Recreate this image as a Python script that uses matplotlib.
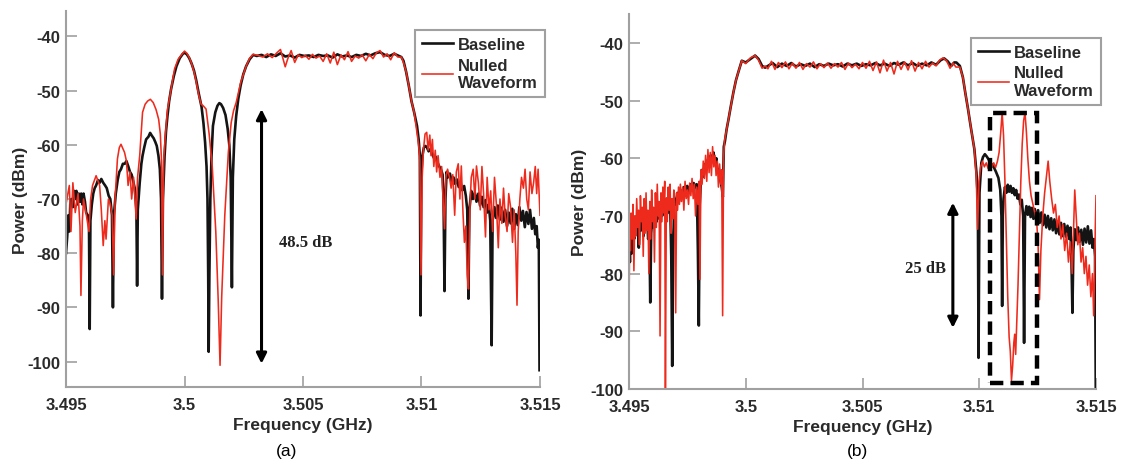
import matplotlib
matplotlib.use("Agg")
import matplotlib.pyplot as plt
from matplotlib.patches import Rectangle

plt.rcParams['font.family'] = ['Liberation Sans', 'DejaVu Sans']

# ---- data: (frequency GHz, power dBm) ----
base_a = [
    (3.49500, -80.0), (3.49505, -77.0), (3.49510, -73.0), (3.49514, -76.0), (3.49518, -71.0),
    (3.49523, -70.0), (3.49529, -71.5), (3.49534, -68.5), (3.49539, -70.0), (3.49544, -68.5),
    (3.49549, -71.0), (3.49554, -69.0), (3.49559, -70.5), (3.49564, -69.0), (3.49569, -71.0),
    (3.49574, -69.0), (3.49580, -70.5), (3.49585, -72.5), (3.49592, -73.0), (3.49597, -75.0),
    (3.49600, -94.0), (3.49603, -74.0), (3.49609, -71.0), (3.49615, -69.0), (3.49621, -68.0),
    (3.49627, -67.5), (3.49635, -66.5), (3.49642, -67.0), (3.49649, -66.3), (3.49657, -67.0),
    (3.49665, -67.5), (3.49672, -68.0), (3.49680, -69.4), (3.49687, -70.0), (3.49694, -73.0),
    (3.49698, -90.0), (3.49702, -73.0), (3.49710, -69.0), (3.49718, -66.5), (3.49725, -65.0),
    (3.49732, -64.5), (3.49740, -63.5), (3.49748, -63.5), (3.49755, -63.0), (3.49763, -64.0),
    (3.49770, -65.0), (3.49777, -65.5), (3.49790, -68.0), (3.49797, -72.0), (3.49800, -86.0),
    (3.49803, -72.0), (3.49811, -67.0), (3.49818, -63.5), (3.49823, -62.0), (3.49830, -60.5),
    (3.49838, -59.0), (3.49848, -58.5), (3.49855, -57.8), (3.49862, -58.3), (3.49870, -58.8),
    (3.49877, -59.5), (3.49883, -60.2), (3.49890, -62.0), (3.49896, -64.5), (3.49901, -70.0),
    (3.49905, -88.4), (3.49909, -70.0), (3.49916, -62.0), (3.49922, -57.5), (3.49928, -54.7),
    (3.49935, -52.0), (3.49943, -49.8), (3.49955, -47.3), (3.49966, -45.5), (3.49980, -44.0),
    (3.49993, -43.2), (3.50000, -43.0), (3.50010, -43.3), (3.50020, -44.0), (3.50030, -45.0),
    (3.50040, -46.3), (3.50049, -48.0), (3.50060, -50.5), (3.50072, -53.0), (3.50080, -56.0),
    (3.50087, -59.6), (3.50093, -64.0), (3.50097, -70.0), (3.50100, -84.0), (3.50102, -98.2),
    (3.50105, -84.0), (3.50109, -70.0), (3.50114, -62.0), (3.50120, -56.5), (3.50130, -54.0),
    (3.50139, -52.8), (3.50147, -52.3), (3.50154, -52.5), (3.50163, -53.2), (3.50173, -54.5),
    (3.50182, -57.0), (3.50189, -60.0), (3.50195, -66.0), (3.50200, -86.3), (3.50204, -66.0),
    (3.50210, -59.0), (3.50218, -54.7), (3.50227, -51.5), (3.50237, -49.0), (3.50248, -47.0),
    (3.50260, -45.5), (3.50275, -44.2), (3.50290, -43.4),
    (3.50305, -43.6), (3.50325, -43.4), (3.50345, -43.8), (3.50365, -43.3), (3.50385, -43.6),
    (3.50405, -43.1), (3.50425, -43.7), (3.50445, -43.5), (3.50465, -43.9), (3.50485, -43.4),
    (3.50505, -43.6), (3.50525, -43.5), (3.50545, -43.8), (3.50565, -43.4), (3.50585, -43.6),
    (3.50605, -43.5), (3.50625, -43.9), (3.50645, -43.3), (3.50665, -43.7), (3.50685, -43.5),
    (3.50705, -43.8), (3.50725, -43.4), (3.50745, -43.6), (3.50765, -43.2), (3.50785, -43.5),
    (3.50805, -43.1), (3.50825, -42.9), (3.50845, -43.4), (3.50865, -43.6), (3.50885, -43.2),
    (3.50900, -43.5), (3.50915, -43.8), (3.50924, -44.5), (3.50935, -46.5), (3.50946, -49.0),
    (3.50958, -52.0), (3.50969, -54.0), (3.50981, -56.5), (3.50988, -59.0), (3.50993, -62.0),
    (3.50996, -91.5), (3.50999, -66.0), (3.51004, -62.0), (3.51010, -60.5), (3.51016, -60.2),
    (3.51022, -60.4), (3.51030, -61.2), (3.51037, -60.8), (3.51044, -61.6), (3.51052, -62.4),
    (3.51060, -62.2), (3.51067, -63.2), (3.51075, -64.0), (3.51082, -64.5), (3.51089, -65.5),
    (3.51093, -70.0), (3.51097, -87.0), (3.51101, -70.0), (3.51106, -65.0), (3.51112, -66.0),
    (3.51120, -65.3), (3.51127, -66.8), (3.51135, -66.0), (3.51142, -67.2), (3.51150, -66.4),
    (3.51157, -67.8), (3.51165, -67.0), (3.51172, -68.4), (3.51180, -67.6), (3.51187, -69.4),
    (3.51193, -72.0), (3.51198, -88.4), (3.51202, -72.0), (3.51210, -68.5), (3.51217, -70.0),
    (3.51225, -68.8), (3.51232, -70.5), (3.51240, -69.0), (3.51247, -71.2), (3.51255, -69.6),
    (3.51262, -71.5), (3.51270, -70.2), (3.51277, -72.5), (3.51284, -71.0), (3.51290, -74.0),
    (3.51296, -97.0), (3.51300, -74.0), (3.51308, -71.5), (3.51315, -73.5), (3.51322, -71.2),
    (3.51331, -73.8), (3.51338, -71.6), (3.51346, -74.2), (3.51353, -72.0), (3.51361, -75.0),
    (3.51368, -72.5), (3.51376, -74.5), (3.51383, -71.8), (3.51391, -75.5), (3.51398, -72.8),
    (3.51406, -74.8), (3.51413, -71.5), (3.51421, -74.0), (3.51428, -72.2), (3.51436, -75.2),
    (3.51443, -72.4), (3.51451, -74.6), (3.51458, -72.0), (3.51466, -75.5), (3.51474, -73.5),
    (3.51480, -76.5), (3.51486, -75.0), (3.51491, -79.0), (3.51495, -77.5), (3.51498, -101.6),
]

null_a = [
    (3.49500, -71.0), (3.49514, -67.5), (3.49521, -76.0), (3.49529, -67.0), (3.49539, -72.5),
    (3.49551, -69.0), (3.49559, -75.0), (3.49563, -87.8), (3.49569, -74.0), (3.49574, -70.0),
    (3.49584, -72.5), (3.49597, -76.0), (3.49604, -70.0), (3.49612, -67.5), (3.49627, -65.7),
    (3.49642, -67.5), (3.49649, -72.0), (3.49657, -78.6), (3.49664, -74.0), (3.49669, -77.4),
    (3.49679, -70.0), (3.49687, -71.0), (3.49695, -73.0), (3.49701, -84.0), (3.49707, -70.0),
    (3.49717, -62.6), (3.49725, -60.5), (3.49732, -59.9), (3.49747, -61.4), (3.49755, -63.0),
    (3.49762, -67.5), (3.49770, -65.0), (3.49777, -70.0), (3.49785, -66.0), (3.49790, -69.0),
    (3.49796, -73.7), (3.49802, -66.0), (3.49811, -62.0), (3.49823, -54.0), (3.49834, -52.5),
    (3.49845, -51.9), (3.49856, -51.6), (3.49868, -52.2), (3.49880, -53.5), (3.49891, -55.3),
    (3.49898, -58.0), (3.49903, -63.0), (3.49907, -84.0), (3.49912, -63.0), (3.49918, -59.0),
    (3.49928, -53.5), (3.49936, -51.6), (3.49948, -48.5), (3.49958, -46.0), (3.49973, -44.2),
    (3.50000, -42.7), (3.50010, -43.1), (3.50020, -43.9), (3.50030, -45.0), (3.50040, -46.5),
    (3.50049, -48.3), (3.50060, -50.8), (3.50070, -52.5), (3.50079, -52.8), (3.50091, -53.4),
    (3.50104, -58.0), (3.50117, -64.0), (3.50132, -76.0), (3.50142, -88.4), (3.50150, -100.7),
    (3.50157, -88.0), (3.50170, -73.0), (3.50185, -61.4), (3.50197, -55.9), (3.50207, -53.7),
    (3.50218, -52.2), (3.50237, -48.5), (3.50260, -45.5), (3.50275, -44.0),
    (3.50290, -43.3), (3.50310, -43.5), (3.50330, -43.8), (3.50350, -43.2), (3.50370, -43.9),
    (3.50390, -43.0), (3.50405, -42.4), (3.50415, -44.0), (3.50425, -45.6), (3.50435, -44.2),
    (3.50450, -42.6), (3.50465, -44.8), (3.50480, -43.4), (3.50495, -43.9), (3.50510, -43.5),
    (3.50525, -44.2), (3.50540, -43.3), (3.50555, -44.0), (3.50570, -43.6), (3.50585, -44.6),
    (3.50600, -43.2), (3.50615, -44.9), (3.50630, -42.9), (3.50645, -45.2), (3.50660, -43.4),
    (3.50675, -44.3), (3.50690, -42.8), (3.50705, -44.6), (3.50720, -43.6), (3.50735, -44.0),
    (3.50750, -43.4), (3.50765, -44.5), (3.50780, -43.3), (3.50795, -44.1), (3.50810, -43.0),
    (3.50825, -42.6), (3.50840, -43.8), (3.50855, -43.2), (3.50870, -44.3), (3.50885, -43.0),
    (3.50900, -43.8), (3.50915, -43.8), (3.50924, -44.8), (3.50935, -46.5), (3.50946, -49.0),
    (3.50958, -52.0), (3.50969, -54.0), (3.50981, -57.7), (3.50988, -60.0), (3.50993, -63.0),
    (3.50998, -84.0), (3.51003, -66.0), (3.51008, -61.0), (3.51015, -58.0), (3.51022, -57.7),
    (3.51028, -61.0), (3.51035, -58.2), (3.51040, -62.0), (3.51046, -59.0), (3.51052, -64.0),
    (3.51058, -61.0), (3.51064, -65.0), (3.51070, -62.0), (3.51078, -66.0), (3.51085, -64.0),
    (3.51091, -70.0), (3.51097, -75.5), (3.51103, -66.0), (3.51110, -64.5), (3.51118, -66.0),
    (3.51125, -68.0), (3.51132, -65.5), (3.51140, -73.0), (3.51147, -65.0), (3.51155, -63.5),
    (3.51162, -70.0), (3.51168, -63.9), (3.51175, -72.5), (3.51181, -78.0), (3.51187, -75.0),
    (3.51193, -84.0), (3.51198, -86.6), (3.51204, -72.0), (3.51210, -66.0), (3.51218, -64.5),
    (3.51225, -70.0), (3.51232, -63.9), (3.51240, -67.0), (3.51248, -72.0), (3.51255, -64.0),
    (3.51262, -69.0), (3.51270, -77.0), (3.51277, -66.0), (3.51285, -72.0), (3.51292, -68.5),
    (3.51300, -76.0), (3.51308, -66.0), (3.51316, -71.0), (3.51324, -79.0), (3.51331, -70.0),
    (3.51339, -74.5), (3.51346, -68.0), (3.51353, -73.0), (3.51361, -76.0), (3.51368, -69.0),
    (3.51376, -71.5), (3.51384, -78.0), (3.51391, -72.0), (3.51398, -80.0), (3.51403, -89.6),
    (3.51408, -76.0), (3.51415, -70.0), (3.51422, -66.0), (3.51430, -68.0), (3.51437, -64.5),
    (3.51444, -70.0), (3.51451, -72.0), (3.51458, -65.0), (3.51466, -69.0), (3.51473, -67.0),
    (3.51480, -64.0), (3.51486, -69.0), (3.51492, -64.5), (3.51497, -70.0), (3.51500, -73.0),
]

base_b = [
    (3.49500, -74.0), (3.49504, -78.0), (3.49508, -72.0), (3.49512, -76.5), (3.49517, -71.0),
    (3.49522, -74.0), (3.49527, -70.5), (3.49532, -73.0), (3.49537, -71.0), (3.49542, -75.5),
    (3.49547, -70.0), (3.49552, -72.5), (3.49557, -70.0), (3.49562, -73.5), (3.49567, -69.5),
    (3.49572, -72.0), (3.49577, -70.0), (3.49582, -74.0), (3.49587, -72.0), (3.49591, -85.0),
    (3.49595, -73.0), (3.49600, -70.0), (3.49606, -72.0), (3.49612, -69.0), (3.49618, -71.0),
    (3.49624, -68.5), (3.49630, -70.5), (3.49636, -68.0), (3.49642, -70.0), (3.49648, -67.5),
    (3.49654, -69.5), (3.49660, -67.0), (3.49666, -69.5), (3.49672, -66.5), (3.49677, -69.0),
    (3.49681, -77.0), (3.49685, -96.0), (3.49689, -76.0), (3.49694, -67.0), (3.49700, -68.0),
    (3.49707, -66.0), (3.49714, -67.5), (3.49721, -65.5), (3.49728, -66.8), (3.49735, -65.0),
    (3.49742, -66.5), (3.49749, -64.8), (3.49756, -66.0), (3.49763, -64.5), (3.49770, -65.5),
    (3.49777, -64.3), (3.49784, -65.0), (3.49790, -64.5), (3.49795, -76.0), (3.49799, -89.0),
    (3.49803, -68.0), (3.49808, -64.0), (3.49814, -62.0), (3.49820, -63.2), (3.49826, -61.0),
    (3.49832, -62.0), (3.49838, -60.2), (3.49844, -61.0), (3.49850, -59.5), (3.49856, -60.5),
    (3.49862, -59.0), (3.49868, -61.0), (3.49874, -60.0), (3.49880, -62.5), (3.49886, -62.0),
    (3.49892, -64.0), (3.49897, -65.0), (3.49902, -66.7), (3.49906, -58.0), (3.49911, -57.0),
    (3.49918, -55.0), (3.49926, -53.3), (3.49936, -51.0), (3.49947, -48.6), (3.49958, -46.5),
    (3.49968, -45.1), (3.49983, -43.1), (3.50000, -43.4), (3.50020, -42.8), (3.50040, -42.2),
    (3.50055, -42.8), (3.50070, -44.0), (3.50083, -44.3),
    (3.50095, -44.0), (3.50115, -43.5), (3.50135, -44.2), (3.50155, -43.6), (3.50175, -44.0),
    (3.50195, -43.5), (3.50215, -44.1), (3.50235, -43.7), (3.50255, -44.0), (3.50275, -43.6),
    (3.50295, -44.2), (3.50315, -43.7), (3.50335, -44.0), (3.50355, -43.6), (3.50375, -43.9),
    (3.50395, -43.7), (3.50415, -44.1), (3.50435, -43.6), (3.50455, -43.9), (3.50475, -43.6),
    (3.50495, -44.0), (3.50515, -43.7), (3.50535, -43.9), (3.50555, -43.5), (3.50575, -43.9),
    (3.50595, -43.6), (3.50615, -44.0), (3.50635, -43.5), (3.50655, -43.8), (3.50675, -43.4),
    (3.50695, -43.9), (3.50715, -43.5), (3.50735, -44.0), (3.50755, -43.6), (3.50775, -43.9),
    (3.50795, -43.4), (3.50815, -43.8), (3.50835, -43.0), (3.50850, -42.7), (3.50865, -43.2),
    (3.50880, -44.0), (3.50893, -43.4),
    (3.50902, -43.4), (3.50917, -44.0), (3.50930, -46.0), (3.50940, -48.6), (3.50952, -51.5),
    (3.50963, -54.4), (3.50979, -58.4), (3.50988, -62.5), (3.50994, -67.0), (3.50997, -94.6),
    (3.51001, -66.0), (3.51009, -60.8), (3.51016, -59.8), (3.51024, -59.3), (3.51032, -59.7),
    (3.51040, -60.2), (3.51050, -60.9), (3.51063, -61.6), (3.51072, -62.4), (3.51082, -63.4),
    (3.51090, -65.5), (3.51095, -70.0), (3.51098, -85.6), (3.51101, -70.0),
    (3.51104, -67.0), (3.51110, -65.0), (3.51116, -66.0), (3.51122, -64.6), (3.51128, -65.8),
    (3.51134, -64.8), (3.51140, -66.0), (3.51146, -65.2), (3.51152, -66.4), (3.51158, -65.5),
    (3.51164, -67.0), (3.51170, -66.3), (3.51176, -68.0), (3.51182, -67.2), (3.51188, -70.0),
    (3.51192, -92.0), (3.51196, -70.0), (3.51202, -68.3), (3.51208, -69.8), (3.51214, -68.4),
    (3.51220, -70.2), (3.51226, -68.6), (3.51232, -70.5), (3.51238, -68.8), (3.51245, -71.0),
    (3.51252, -69.0), (3.51259, -71.2), (3.51266, -69.4), (3.51273, -71.6), (3.51280, -69.8),
    (3.51287, -72.0), (3.51294, -70.0), (3.51301, -72.3), (3.51308, -70.4), (3.51315, -72.5),
    (3.51322, -70.6), (3.51329, -73.0), (3.51336, -71.0), (3.51343, -73.2), (3.51350, -71.2),
    (3.51357, -73.5), (3.51364, -71.4), (3.51371, -73.6), (3.51378, -71.7), (3.51385, -74.0),
    (3.51391, -72.0), (3.51395, -78.0), (3.51399, -86.8), (3.51403, -76.0), (3.51409, -72.3),
    (3.51416, -74.2), (3.51423, -72.0), (3.51430, -74.5), (3.51437, -72.4), (3.51444, -75.0),
    (3.51451, -72.2), (3.51458, -74.6), (3.51465, -71.8), (3.51472, -74.8), (3.51479, -72.5),
    (3.51485, -75.5), (3.51491, -74.0), (3.51496, -77.0), (3.51499, -100.0),
]

null_b = [
    (3.49500, -86.8), (3.49503, -72.0), (3.49506, -76.0), (3.49509, -69.5), (3.49513, -74.0),
    (3.49517, -68.0), (3.49521, -79.5), (3.49525, -70.0), (3.49529, -73.5), (3.49533, -67.0),
    (3.49537, -72.0), (3.49541, -69.0), (3.49545, -75.0), (3.49549, -66.5), (3.49553, -71.0),
    (3.49557, -68.5), (3.49561, -77.0), (3.49565, -67.0), (3.49569, -73.0), (3.49573, -66.0),
    (3.49577, -72.5), (3.49581, -69.0), (3.49585, -80.0), (3.49589, -67.5), (3.49593, -74.0),
    (3.49597, -65.5), (3.49601, -71.0), (3.49605, -68.5), (3.49609, -78.0), (3.49613, -66.0),
    (3.49617, -72.0), (3.49621, -64.5), (3.49625, -70.0), (3.49629, -67.5), (3.49633, -90.8),
    (3.49637, -66.0), (3.49641, -71.0), (3.49645, -65.0), (3.49649, -69.5), (3.49653, -64.0),
    (3.49656, -100.0), (3.49660, -67.0), (3.49664, -71.0), (3.49668, -65.0), (3.49672, -69.0),
    (3.49676, -64.5), (3.49680, -73.0), (3.49684, -67.0), (3.49688, -70.5), (3.49692, -65.5),
    (3.49696, -68.5), (3.49700, -86.8), (3.49704, -66.0), (3.49708, -69.0), (3.49712, -65.0),
    (3.49716, -68.0), (3.49720, -64.5), (3.49725, -67.5), (3.49730, -65.0), (3.49735, -69.0),
    (3.49740, -64.0), (3.49745, -67.0), (3.49750, -65.5), (3.49755, -68.0), (3.49760, -64.3),
    (3.49765, -66.5), (3.49770, -63.5), (3.49775, -67.0), (3.49780, -64.5), (3.49785, -70.0),
    (3.49790, -65.0), (3.49795, -68.0), (3.49800, -64.0), (3.49804, -81.0), (3.49808, -62.0),
    (3.49813, -64.5), (3.49818, -60.5), (3.49823, -63.5), (3.49828, -59.5), (3.49833, -64.0),
    (3.49838, -58.5), (3.49843, -62.5), (3.49848, -59.0), (3.49853, -63.0), (3.49858, -58.0),
    (3.49863, -61.5), (3.49868, -59.5), (3.49873, -63.0), (3.49878, -60.5), (3.49883, -65.0),
    (3.49888, -61.0), (3.49893, -64.5), (3.49897, -62.0), (3.49901, -87.3), (3.49905, -60.0),
    (3.49909, -57.0), (3.49918, -55.0), (3.49926, -53.3), (3.49936, -51.0), (3.49947, -48.6),
    (3.49958, -46.5), (3.49968, -45.1), (3.49983, -43.1), (3.50000, -43.6), (3.50020, -42.6),
    (3.50040, -42.2), (3.50055, -43.0), (3.50070, -44.4), (3.50083, -44.0),
    (3.50095, -44.5), (3.50110, -43.2), (3.50125, -44.6), (3.50140, -43.4), (3.50155, -44.3),
    (3.50170, -43.3), (3.50185, -44.5), (3.50200, -43.5), (3.50215, -44.4), (3.50230, -43.4),
    (3.50245, -44.6), (3.50260, -43.6), (3.50275, -44.2), (3.50290, -43.3), (3.50305, -44.5),
    (3.50320, -43.6), (3.50335, -44.3), (3.50350, -43.5), (3.50365, -44.4), (3.50380, -43.6),
    (3.50395, -44.2), (3.50410, -43.4), (3.50425, -44.6), (3.50440, -43.5), (3.50455, -44.3),
    (3.50470, -43.7), (3.50485, -44.5), (3.50500, -43.4), (3.50515, -44.4), (3.50530, -43.2),
    (3.50545, -44.8), (3.50560, -43.3), (3.50575, -45.2), (3.50590, -43.0), (3.50605, -44.9),
    (3.50620, -43.4), (3.50635, -45.4), (3.50650, -43.2), (3.50665, -44.6), (3.50680, -43.3),
    (3.50695, -44.7), (3.50710, -43.1), (3.50725, -44.9), (3.50740, -43.4), (3.50755, -44.5),
    (3.50770, -43.2), (3.50785, -44.2), (3.50800, -43.5), (3.50815, -44.0), (3.50830, -43.0),
    (3.50845, -42.6), (3.50860, -43.1), (3.50875, -44.4), (3.50888, -43.5), (3.50900, -44.2),
    (3.50917, -44.2), (3.50930, -46.0), (3.50940, -48.6), (3.50952, -51.5), (3.50963, -54.4),
    (3.50979, -58.4), (3.50987, -63.0), (3.50993, -72.3), (3.50999, -64.0), (3.51006, -61.5),
    (3.51014, -60.5), (3.51022, -61.5), (3.51030, -60.8), (3.51038, -61.8), (3.51046, -60.6),
    (3.51054, -61.5), (3.51062, -60.8), (3.51070, -61.6), (3.51078, -60.5), (3.51085, -59.0),
    (3.51092, -55.5), (3.51098, -52.1), (3.51104, -56.0), (3.51110, -64.0), (3.51116, -74.0),
    (3.51122, -84.0), (3.51128, -91.0), (3.51133, -93.5), (3.51138, -98.5), (3.51143, -96.0),
    (3.51148, -92.0), (3.51152, -90.5), (3.51156, -94.0), (3.51160, -89.0), (3.51166, -82.0),
    (3.51172, -73.0), (3.51178, -64.0), (3.51184, -57.5), (3.51190, -53.5), (3.51196, -52.1),
    (3.51202, -55.5), (3.51208, -60.0), (3.51215, -64.0), (3.51222, -66.5), (3.51230, -68.0),
    (3.51238, -69.5), (3.51246, -71.0), (3.51252, -75.0), (3.51258, -84.5), (3.51264, -76.0),
    (3.51272, -70.0), (3.51280, -66.0), (3.51288, -63.0), (3.51295, -60.5), (3.51302, -64.0),
    (3.51310, -67.0), (3.51318, -69.5), (3.51326, -68.0), (3.51334, -72.0), (3.51342, -70.0),
    (3.51350, -74.0), (3.51358, -71.5), (3.51366, -76.0), (3.51374, -73.0), (3.51382, -78.0),
    (3.51390, -74.5), (3.51398, -80.0), (3.51404, -72.0), (3.51409, -65.5), (3.51415, -70.0),
    (3.51422, -75.0), (3.51429, -73.0), (3.51436, -78.0), (3.51443, -75.5), (3.51450, -80.0),
    (3.51457, -77.0), (3.51464, -82.0), (3.51471, -78.5), (3.51478, -84.0), (3.51485, -80.0),
    (3.51490, -87.3), (3.51494, -80.0), (3.51497, -72.0), (3.51500, -66.5),
]

xticks = [3.495, 3.5, 3.505, 3.51, 3.515]
xtick_labels = ['3.495', '3.5', '3.505', '3.51', '3.515']
yticks = [-100, -90, -80, -70, -60, -50, -40]

# annotations (x, y_top, y_bottom)
arrow_a = (3.50325, -53.4, -100.4)
arrow_b = (3.50887, -67.7, -89.4)
box_b = (3.51047, 3.51246, -98.9, -52.1)

BLACK = '#141414'
RED = '#ee2a1c'
GREY = '#a0a0a0'
TXT = '#2a2a2a'

fig = plt.figure(figsize=(11.23, 4.64), dpi=100)
ax1 = fig.add_axes([66 / 1123, 76 / 464, 474 / 1123, 376 / 464])
ax2 = fig.add_axes([629 / 1123, 74 / 464, 467 / 1123, 375 / 464])


def style(ax, ylim, leg_anchor):
    ax.set_xlim(3.495, 3.515)
    ax.set_ylim(*ylim)
    ax.set_xticks(xticks)
    ax.set_xticklabels(xtick_labels)
    ax.set_yticks(yticks)
    ax.set_yticklabels([str(v) for v in yticks])
    for s in ['top', 'right']:
        ax.spines[s].set_visible(False)
    for s in ['left', 'bottom']:
        ax.spines[s].set_color(GREY)
        ax.spines[s].set_linewidth(1.5)
    ax.tick_params(direction='in', length=8, width=1.2, color=GREY,
                   labelsize=12, labelcolor=TXT)
    ax.tick_params(axis='x', pad=7)
    ax.tick_params(axis='y', pad=4)
    for lab in ax.get_xticklabels() + ax.get_yticklabels():
        lab.set_fontweight('bold')
    ax.set_xlabel('Frequency (GHz)', fontsize=12.5, fontweight='bold', color=TXT)
    ax.set_ylabel('Power (dBm)', fontsize=12.5, fontweight='bold', color=TXT)
    leg = ax.legend(loc='upper left', bbox_to_anchor=leg_anchor, fancybox=False,
                    framealpha=1, edgecolor=GREY, handlelength=1.9, handletextpad=0.3,
                    borderpad=0.4, labelspacing=0.35, borderaxespad=0,
                    prop={'weight': 'bold', 'size': 12})
    leg.get_frame().set_linewidth(1.5)
    for t in leg.get_texts():
        t.set_color(TXT)


for ax, base, null in [(ax1, base_a, null_a), (ax2, base_b, null_b)]:
    bf, bp = zip(*base)
    nf, npw = zip(*null)
    ax.plot(bf, bp, color=BLACK, lw=1.9, label='Baseline')
    ax.plot(nf, npw, color=RED, lw=1.15, label='Nulled\nWaveform')

style(ax1, (-104.7, -35.3), (0.736, 0.949))
style(ax2, (-100, -35), (0.732, 0.936))
ax1.xaxis.set_label_coords(0.5, -0.08)
ax2.xaxis.set_label_coords(0.5, -0.08)
ax1.yaxis.set_label_coords(-0.08, 0.5)
ax2.yaxis.set_label_coords(-0.09, 0.5)

for ax, (x, y0, y1) in [(ax1, arrow_a), (ax2, arrow_b)]:
    ax.annotate('', xy=(x, y1), xytext=(x, y0),
                arrowprops=dict(arrowstyle='<|-|>', color='black', lw=2.2,
                                mutation_scale=15, shrinkA=0, shrinkB=0))

ax1.text(3.5040, -77.9, '48.5 dB', family=['Liberation Serif', 'DejaVu Serif'],
         fontweight='bold', fontsize=12, va='center', ha='left', color='#222222')
ax2.text(3.50856, -79.0, '25 dB', family=['Liberation Serif', 'DejaVu Serif'],
         fontweight='bold', fontsize=12, va='center', ha='right', color='#222222')

x0, x1, y0, y1 = box_b
ax2.add_patch(Rectangle((x0, y0), x1 - x0, y1 - y0, fill=False, edgecolor='black',
                        lw=3.2, linestyle=(0, (3, 1.6)), zorder=5))

fig.text(287 / 1123, 1 - 452 / 464, '(a)', ha='center', va='center', fontsize=12.5)
fig.text(857 / 1123, 1 - 452 / 464, '(b)', ha='center', va='center', fontsize=12.5)

fig.savefig('out.png', dpi=100)
